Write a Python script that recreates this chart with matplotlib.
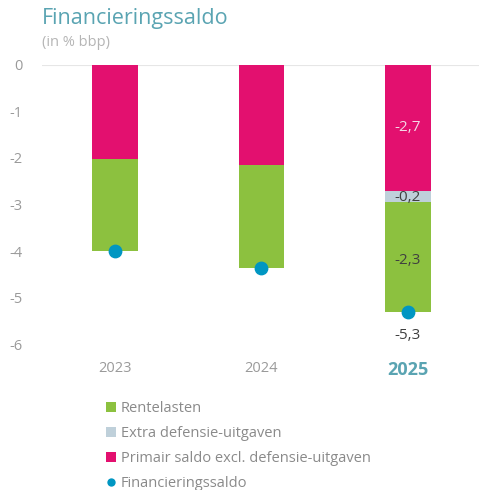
import matplotlib
matplotlib.use("Agg")
import matplotlib.pyplot as plt
from matplotlib.patches import Patch
from matplotlib.lines import Line2D

years = ["2023", "2024", "2025"]
primair = [-2.03, -2.15, -2.7]
defensie = [0.0, 0.0, -0.25]
rente = [-1.97, -2.2, -2.35]
saldo = [-4.0, -4.35, -5.3]
labels_2025 = ["-2,7", "-0,2", "-2,3"]
saldo_label_2025 = "-5,3"
yticks = [0, -1, -2, -3, -4, -5, -6]

C_PINK = "#E3106F"
C_GREEN = "#8CC13F"
C_GREY = "#BFD0DA"
C_DOT = "#0096C2"
C_TITLE = "#5AA4B2"
C_TICK = "#9A9A9A"
C_DARK = "#404040"

plt.rcParams['font.family'] = ['Open Sans', 'DejaVu Sans']

fig = plt.figure(figsize=(4.79, 4.90), dpi=100)
W, H = 479, 490
ax_left, ax_right = 42, 479
ax_top, ax_bot = 64.5, 344.5
ax = fig.add_axes([ax_left / W, 1 - ax_bot / H, (ax_right - ax_left) / W, (ax_bot - ax_top) / H])

x = list(range(len(years)))
bw = 0.31
ax.bar(x, primair, width=bw, color=C_PINK, edgecolor="none", zorder=2)
bottom2 = [p for p in primair]
ax.bar(x, defensie, width=bw, bottom=bottom2, color=C_GREY, edgecolor="none", zorder=2)
bottom3 = [p + d for p, d in zip(primair, defensie)]
ax.bar(x, rente, width=bw, bottom=bottom3, color=C_GREEN, edgecolor="none", zorder=2)
ax.scatter(x, saldo, s=80, color=C_DOT, zorder=4, clip_on=False)

# labels for 2025
i = 2
ax.text(i, primair[i] / 2, labels_2025[0], ha="center", va="center", color="#F4D9E6", fontsize=11)
ax.text(i, primair[i] + defensie[i] / 2 - 0.02, labels_2025[1], ha="center", va="center", color=C_DARK, fontsize=11)
ax.text(i, bottom3[i] + rente[i] / 2 - 0.07, labels_2025[2], ha="center", va="center", color=C_DARK, fontsize=11)
ax.text(i, saldo[i] - 0.5, saldo_label_2025, ha="center", va="center", color=C_DARK, fontsize=11)

ax.set_xlim(-0.498, 2.485)
ax.set_ylim(-6, 0)
ax.axhline(0, color="#E6E6E6", lw=1.5, zorder=1)
ax.set_yticks(yticks)
ax.set_yticklabels([str(t) for t in yticks])
ax.set_xticks(x)
ax.set_xticklabels(years)
for s in ax.spines.values():
    s.set_visible(False)
ax.tick_params(axis="both", length=0, colors=C_TICK, labelsize=10.5)
ax.tick_params(axis="y", pad=14)
ax.tick_params(axis="x", pad=12)
xt = ax.get_xticklabels()
xt[2].set_fontweight("bold")
xt[2].set_color(C_TITLE)
xt[2].set_fontsize(13)

fig.text(42 / W, 1 - 8 / H, "Financieringssaldo", ha="left", va="top", color=C_TITLE, fontsize=15.5)
fig.text(42 / W, 1 - 35 / H, "(in % bbp)", ha="left", va="top", color="#B5B5B5", fontsize=10.5)

handles = [
    Patch(facecolor=C_GREEN, edgecolor="none", label="Rentelasten"),
    Patch(facecolor=C_GREY, edgecolor="none", label="Extra defensie-uitgaven"),
    Patch(facecolor=C_PINK, edgecolor="none", label="Primair saldo excl. defensie-uitgaven"),
    Line2D([0], [0], marker="o", color="none", markerfacecolor=C_DOT, markeredgecolor="none", markersize=6, label="Financieringssaldo"),
]
leg = fig.legend(handles=handles, loc="upper left", bbox_to_anchor=(106 / W, 1 - 401 / H), frameon=False,
                 fontsize=10.5, handlelength=0.7, handleheight=0.7, handletextpad=0.3, labelspacing=0.68,
                 borderaxespad=0, borderpad=0)
for t in leg.get_texts():
    t.set_color("#8A8A8A")

fig.savefig("out.png", dpi=100)
